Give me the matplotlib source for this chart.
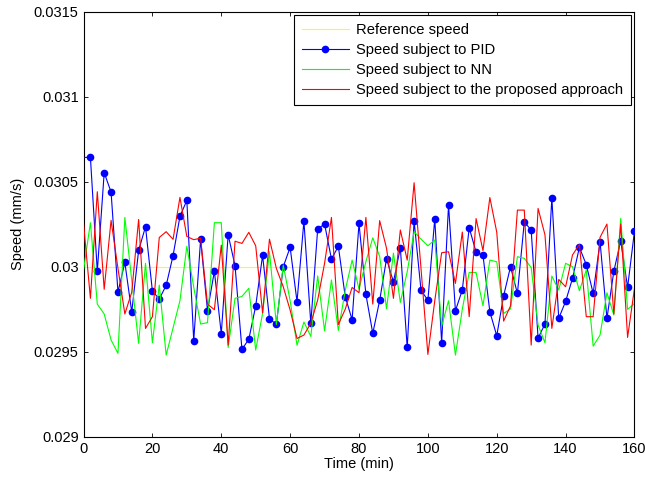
import numpy as np
import matplotlib
matplotlib.use("Agg")
import matplotlib.pyplot as plt
from matplotlib.ticker import FormatStrFormatter

plt.rcParams['font.family'] = ['Liberation Sans', 'DejaVu Sans']

# sampling times (min)
time_min = list(range(0, 161, 2))

reference = [0.03] * len(time_min)

# speed subject to PID (mm/s)
pid_speed = [
    0.030643, 0.030643, 0.029973, 0.030553, 0.030439, 0.029851, 0.030025, 0.029733, 0.030096, 0.030235,
    0.029857, 0.029810, 0.029890, 0.030065, 0.030296, 0.030390, 0.029565, 0.030161, 0.029741, 0.029973,
    0.029606, 0.030188, 0.030006, 0.029514, 0.029573, 0.029769, 0.030067, 0.029694, 0.029661, 0.030000,
    0.030114, 0.029794, 0.030269, 0.029667, 0.030222, 0.030251, 0.030045, 0.030120, 0.029824, 0.029688,
    0.030255, 0.029837, 0.029608, 0.029802, 0.030047, 0.029910, 0.030112, 0.029525, 0.030269, 0.029863,
    0.029802, 0.030282, 0.029553, 0.030363, 0.029741, 0.029863, 0.030229, 0.030086, 0.030067, 0.029735,
    0.029594, 0.029829, 0.030000, 0.029843, 0.030263, 0.030216, 0.029580, 0.029663, 0.030404, 0.029696,
    0.029796, 0.029931, 0.030114, 0.030012, 0.029843, 0.030147, 0.029696, 0.029973, 0.030153, 0.029878,
    0.030210,
]

# speed subject to NN (mm/s)
nn_speed = [
    0.029980, 0.030259, 0.029780, 0.029722, 0.029569, 0.029490, 0.030290, 0.029920, 0.029549, 0.030020,
    0.029553, 0.029892, 0.029480, 0.029640, 0.029800, 0.030120, 0.029880, 0.029663, 0.029671, 0.030259,
    0.030259, 0.029525, 0.029814, 0.029825, 0.029873, 0.029510, 0.029725, 0.030088, 0.029660, 0.030010,
    0.029800, 0.029538, 0.029675, 0.029590, 0.029946, 0.029623, 0.029922, 0.029625, 0.029860, 0.030039,
    0.029868, 0.030030, 0.030170, 0.030060, 0.029753, 0.030080, 0.029790, 0.029970, 0.030206, 0.030162,
    0.030123, 0.030157, 0.029650, 0.029800, 0.029480, 0.029750, 0.029966, 0.029966, 0.029770, 0.030039,
    0.030029, 0.029725, 0.029752, 0.030059, 0.030049, 0.029995, 0.029657, 0.029553, 0.029945, 0.029863,
    0.030020, 0.030000, 0.029859, 0.029980, 0.029533, 0.029598, 0.029847, 0.029716, 0.030284, 0.029749,
    0.029784,
]

# speed subject to the proposed approach (mm/s)
proposed_speed = [
    0.030255, 0.029814, 0.030441, 0.029867, 0.030273, 0.029990, 0.029722, 0.029850, 0.030278, 0.029637,
    0.029706, 0.030172, 0.030206, 0.030161, 0.030408, 0.030178, 0.030159, 0.030168, 0.029780, 0.029747,
    0.030127, 0.029539, 0.030150, 0.030137, 0.030202, 0.030123, 0.029729, 0.030162, 0.029990, 0.029882,
    0.029745, 0.029578, 0.029598, 0.029667, 0.029804, 0.030020, 0.030290, 0.029660, 0.029750, 0.029878,
    0.029847, 0.030290, 0.029780, 0.030271, 0.030108, 0.029814, 0.030216, 0.030039, 0.030494, 0.029990,
    0.029484, 0.029800, 0.030082, 0.030088, 0.029902, 0.030204, 0.029706, 0.030283, 0.030095, 0.030407,
    0.030203, 0.029680, 0.029770, 0.030333, 0.030333, 0.029539, 0.030343, 0.030188, 0.029637, 0.029925,
    0.029882, 0.030069, 0.030131, 0.029706, 0.029706, 0.030173, 0.030251, 0.029722, 0.030251, 0.029584,
    0.029873,
]

fig = plt.figure(figsize=(6.45, 4.83), dpi=100)
ax = fig.add_axes([0.1295, 0.0958, 0.8542, 0.8800])

ax.plot(time_min, reference, color='#ffff00', linewidth=0.8, label='Reference speed', zorder=2)
ax.plot(time_min, pid_speed, color='#0000ff', linewidth=0.8, marker='o', markersize=4.5,
        markevery=slice(1, None), label='Speed subject to PID', zorder=3)
ax.plot(time_min, nn_speed, color='#00ff00', linewidth=0.8, label='Speed subject to NN', zorder=3)
ax.plot(time_min, proposed_speed, color='#ff0000', linewidth=0.8,
        label='Speed subject to the proposed approach', zorder=3)

ax.set_xlim(0, 160)
ax.set_ylim(0.029, 0.0315)
ax.set_xticks(range(0, 161, 20))
ax.set_yticks([0.029, 0.0295, 0.03, 0.0305, 0.031, 0.0315])
ax.yaxis.set_major_formatter(FormatStrFormatter('%g'))
ax.tick_params(direction='in', top=True, right=True, length=3, width=0.6, labelsize=10.5)
for sp in ax.spines.values():
    sp.set_linewidth(0.8)

ax.set_xlabel('Time (min)', fontsize=10.5, labelpad=1)
ax.set_ylabel('Speed (mm/s)', fontsize=10.5, labelpad=6)

leg = ax.legend(loc='upper right', fontsize=10.6, handlelength=3.2, handletextpad=0.5,
                labelspacing=0.42, borderaxespad=0.25, borderpad=0.5,
                fancybox=False, framealpha=1, edgecolor='black')
leg.get_frame().set_linewidth(0.8)

fig.savefig('out.png', dpi=100)
